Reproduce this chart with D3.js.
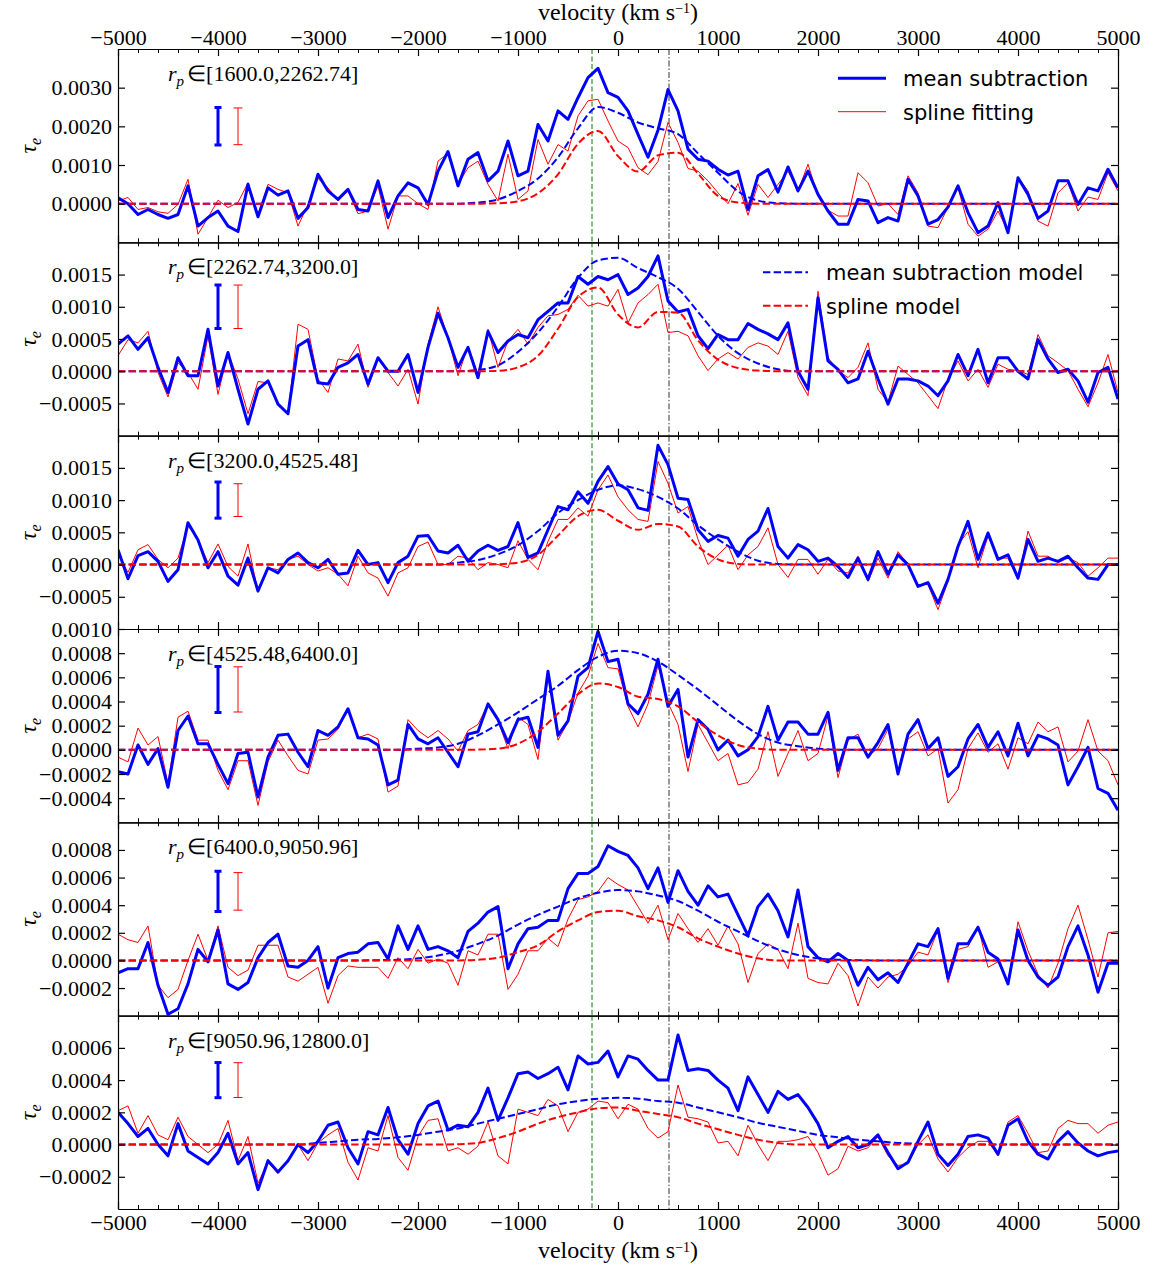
<!DOCTYPE html>
<html>
<head>
<meta charset="utf-8">
<script src="https://cdn.jsdelivr.net/npm/d3@7"></script>
<style>
  body { margin: 0; background: #fff; }
  svg { display: block; }
</style>
</head>
<body>
<svg id="chart" width="1151" height="1271"></svg>
<script>
// ---------------------------------------------------------------------------
// Stacked optical-depth profiles tau_e(v) in six projected-radius bins.
// All tau_e values below are given in units of 1e-4.
// ---------------------------------------------------------------------------
const UNIT = 1e-4;

// velocity grid of the measured profiles (km/s) and of the fitted models
const velocity = d3.range(-5000, 5001, 100);
const modelVelocity = [-5000, ...d3.range(-3200, 3201, 200), 5000];

const binLabels = ["[1600.0,2262.74]", "[2262.74,3200.0]", "[3200.0,4525.48]",
                   "[4525.48,6400.0]", "[6400.0,9050.96]", "[9050.96,12800.0]"];

// mean subtraction profiles
const meanSub1 = [1.55,0,-2.8,-1.5,-2.8,-3.8,-2.8,4.6,-5.8,-3.6, -1.9,-5.8,-7.2,5.0,-3.4,4.1,2.2,3.3,-3.8,-1, 7.6,3.3,1.1,3.7,-1.5,-1.9,5.9,-3.6,2.0,5.4, 4.1,-0.2,8.4,13.5,4.6,11.5,13.2,5.9,8.4,16.2, 7.2,8.4,20.5,16.2,24.0,21.8,27.4,32.6,35,28.7, 27.5,
  24,17.9,12,19,29.5,24,14.1,11.5,11.0,8.9, 7.4,8.4,-1.5,7.2,8.8,3,9.5,3.3,8.4,2.4, -1.9,-5.3,-5.3,1.1,0.7,-4.9,-3.6,-4.5,6.3,2.0, -5.3,-4.1,-0.9,4.6,-2.3,-7.5,-5.8,0.3,-7.5,6.7, 2.4,-3.8,-1.9,5.9,5.9,-0.2,4.1,3.3,8.9,4.1];
const meanSub2 = [4.2,5.5,3.4,5.2,0.6,-3.3,2.1,-0.7,-0.7,6.5, -2.3,2.9,-2.8,-8.2,-2.8,-1.5,-5.1,-6.6,3.9,4.9, -1.8,-2.0,0.6,1.3,2.6,-2,2.1,0,0,2.6, -3.3,3.7,9,5.2,0.6,3.7,-1.0,6.2,2.9,4.7, 5.7,5.2,8.0,9.3,10.6,10.6,14.7,13.5,14.7,14.2, 15.0,
  11.9,12.9,14.7,17.9,10.9,9.2,9.6,5.5,3.5,5.7, 4.9,4.9,7.4,6.5,5.8,4.9,7.5,0,-2.8,11.4, 1.6,0.3,-1.8,-1.2,3.1,-1.2,-5.1,-1.2,-1.2,-1.5, -2.3,-3.8,-1.5,2.6,-0.7,3.4,-1.8,2.1,2.1,0, -1.2,4.9,1.9,-0.2,0.3,-1.5,-4.8,-0.2,0.6,-4.3];
const meanSub3 = [2.3,-2.2,1.4,2.0,0.5,-2.6,-0.8,6.5,3.8,-0.5, 2,-1.8,-3.2,1.0,-4.1,-0.5,-1.3,0.8,1.8,0.3, -0.5,0.8,-1.5,-1.3,2.2,0,0.3,-2.8,0.3,1.3, 4.4,4.5,2.1,1.8,3.0,0.5,2.1,3.0,2.2,2.8, 6.5,1.1,1.8,5.4,9.0,8.5,11.3,9.5,12.9,15.2, 12.5,
  11.6,8.8,8.4,18.5,15.5,10.3,10.1,5.4,3.6,4.5, 4.1,1.3,3.9,5.2,8.7,2.8,1.0,3.1,2.3,0.5, 1.0,-0.3,-2.0,1.0,-2.3,2.0,-1.5,1.5,0,-3.4, -2.8,-6,-2.3,2.8,6.7,0.8,4.9,0.8,1.5,-2.1, 3.9,0.5,1.0,0.5,1.3,-0.5,-2.1,-2.3,0,0];
const meanSub4 = [-1.8,-2.0,0.4,-1.2,0.1,-3.1,1.6,2.8,0.5,0.5, -1.2,-2.8,-0.3,-0.2,-3.9,-0.6,1.2,1.3,-0.2,-1.4, 1.6,1.2,1.9,3.4,1.0,0.9,0.4,-2.9,-2.5,2.1, 0.9,0.5,1.0,-0.2,-1.4,1.3,1.5,3.8,2.5,0.6, 2.5,2.7,0.2,6.5,1.2,2.4,6.1,6.8,9.8,7.3, 7.5,
  3.8,3.0,4.6,7.5,3.6,5.0,-0.6,2.5,1.7,0, 0.8,-0.5,0,1.1,3.6,0.8,2.3,2.3,1.3,1.3, 3.1,-1.7,1.0,1.0,-0.6,0.6,2.1,-2.0,1.3,2.5, 0.1,1.0,-2.2,-1.4,0.9,2.1,0.2,1.5,-0.5,2.2, -0.5,1.2,0.9,0.4,-2.9,-1.4,0.2,-3.2,-3.6,-5.0];
const meanSub5 = [-0.9,-0.6,-0.6,1.3,-1.8,-3.9,-3.5,-1.7,0.8,-0.1, 2.2,-1.7,-2.1,-1.6,0.2,1.3,1.9,-0.4,-0.5,0, 1.0,-2.0,0.2,0.5,0.6,1.2,1.3,0.1,2.5,0.8, 2.5,0.8,1.0,0.7,0.2,2.1,2.7,3.5,3.9,-0.6, 1.2,2.3,2.4,2.9,2.9,5.2,6.3,6.3,6.8,8.3, 7.9,
  7.6,6.7,5.2,6.7,4.2,6.5,5.0,4.0,5.4,4.6, 4.8,3.3,1.8,3.9,4.8,3.6,1.7,5.1,1.0,0.2, -0.1,0.5,0,-1.8,-0.5,-1.4,-0.9,-1.6,-0.2,1.2, 1.0,2.3,-1.3,1.2,1.2,2.4,0.6,0.1,-1.7,2.2, 0,-1.2,-1.8,-1.2,1.0,2.5,0.4,-2.3,-0.2,-0.2];
const meanSub6 = [2.0,1.3,0.5,1.0,0,-0.7,1.3,-0.4,-0.8,-1.2, -0.5,0.7,-1.2,-0.5,-2.8,-1.0,-1.7,-1.0,0,-0.5, 0.2,1.2,1.4,-0.2,-1.2,0.8,0.6,2.3,0.3,-0.6, 1.3,2.4,2.7,0.9,1.2,1.1,2.0,3.5,1.5,2.9, 4.4,4.5,4.1,4.4,4.8,3.4,5.5,5.0,5.1,5.8, 4.2,
  5.5,5.3,4.6,4.0,4.0,6.8,4.6,4.7,4.6,4.0, 3.5,2.1,4.2,3.1,2.0,3.3,2.8,3.1,2.3,1.3, -0.2,0.2,0.5,-0.2,0,0.6,-0.5,-1.5,-1.1,0.2, 1.4,-0.6,-1.3,-0.6,0.5,0.6,0.4,-0.6,1.2,1.6, 0.2,-0.6,-0.9,0.2,0.8,0.1,-0.4,-0.7,-0.5,-0.4];

// spline fitting profiles
const splineFit1 = [0.7,1.6,-1.5,-1.0,-2.1,-2.5,-0.2,6.3,-7.9,-3.6, 0.9,-1.0,0.3,5.4,-2.8,5.0,3.7,2.8,-5.8,-0.2, 6.5,4.1,0.7,3.3,-2.6,-1.9,4.6,-6.6,2.0,2.0, 0,-1.5,11.0,13,5.0,9.3,11.0,5.0,0.7,12.8, 1.1,3.3,16.6,10.2,15.3,13.6,22.7,26.6,27,21.4, 16.2,
  14.5,9.3,7.5,10.9,21,15.8,9.1,8.4,5.9,2.8, 0,5.2,-3,5.0,1.6,5.0,8.4,3.3,10.2,2.0, -1.7,-3.2,-3.2,8.0,5.4,-0.6,0,-2.8,7.2,2.8, -5.8,-6.2,-0.9,4.1,-5.3,-8.4,-6.6,-1.9,-7.1,6.9, 3.3,-4.5,-5.8,2.8,5.4,-1.9,1.7,1.1,8.0,3.3];
const splineFit2 = [2.4,4.9,4.4,6.2,-0.2,-4,1.3,-0.2,-2.8,5.5, -3.6,2.9,-1.2,-6.6,-1.6,-1.8,-5.1,-6.6,7.3,6.5, -1.2,-3.3,1.9,1.6,4.2,-2.5,1.9,-0.2,-2.3,0.3, -5.1,4.2,10,5.2,-0.7,3.9,-0.5,6.5,0.6,4.7, 6.5,4.2,6.8,8.6,8.8,9.6,11.8,10.1,10.6,10.1, 12.7,
  7.5,10.6,11.9,13.5,6.0,6.2,5.5,2.4,0.1,1.9, 2.9,1.9,3.7,4.4,3.9,2.6,6.2,-1,-3.8,12.4, 2.1,0.1,-1.0,0.6,4.4,-2.8,-4.8,0.8,-0.5,-1.8, -3.8,-5.8,-1.2,1.6,-1.5,0.3,-2.5,1.1,0.3,0.1, -0.5,5.7,2.4,1.3,0.1,-2.8,-5.5,-1.8,2.6,-3.3];
const splineFit3 = [1.5,-1.2,2.3,3.1,0.8,-0.5,1.0,6,3.9,0.3, 3.2,-0.3,-1.8,3.2,-4.3,-0.5,-0.8,0.8,1.3,0, -1.0,-0.5,-1.5,-3.3,1.3,-1.3,-2.1,-4.9,-1.3,-0.5, 2.8,3.5,0,0,1.3,1.0,-0.8,0.3,0,-0.5, 3.7,0.8,-0.8,3.6,7.0,7.0,8.8,7.5,11.6,13.9, 10.5,
  8.5,7.0,6.7,16,12.6,8.0,9.0,3.9,0,1.5, 3.0,-0.8,1.5,2.8,5.7,0,-2.0,0.8,0.8,-1.5, 0.8,-1.0,-1.3,1.3,-2.6,1.0,-2.1,2.0,0,-3.1, -3.1,-7.0,-2.6,3.1,5.1,-0.5,4.4,1.0,1.0,-2.3, 5.2,1.3,1.3,0.3,1.0,0.3,-1.8,-0.5,1.0,1.0];
const splineFit4 = [-0.6,-1.0,1.8,0.4,1.1,-2.8,2.7,3.2,0.8,0.8, -1.7,-3.3,-0.9,-0.9,-4.6,-1.0,0.8,-0.5,-1.7,-2.0, 0.8,0.9,1.7,3.4,1.0,1.3,0.9,-3.5,-3.0,2.5, 1.6,1.0,1.6,0.9,-0.1,1.6,2.1,3.8,2.4,0.1, 2.7,2.1,-0.8,6.2,0.8,2.3,4.7,6.1,8.8,6.8, 6.7,
  3.6,1.9,3.8,7.0,3.9,2.1,-1.8,2.1,0.6,-0.9, -0.3,-2.9,-2.7,-1.6,1.5,-2.2,-0.3,1.6,-0.9,-0.3, 2.8,-2.3,0.8,1.3,-0.5,0.1,1.7,-2.0,0.9,1.5, -0.5,0.1,-4.4,-3.3,0.1,1.4,-0.2,0.5,-1.6,1.0, 0.5,2.3,1.5,1.9,-1.0,-0.1,2.5,-0.1,-0.9,-2.9];
const splineFit5 = [1.9,1.5,1.3,2.5,-1.8,-2.7,-2.1,0,1.9,0, 2.5,-0.5,-1.1,-0.7,1.1,1.1,1.1,-1.2,-1.5,-1.0, -0.5,-3.1,-1.1,-0.4,-0.5,-0.5,-0.5,-1.3,0.2,-0.6, 0.8,-0.2,0.1,-0.2,-1.8,0.7,0.4,1.9,1.9,-2.1, -1.0,0.7,0.7,1.6,1.0,3.0,4.4,4.6,5.0,6.0, 5.5,
  5.1,3.9,2.7,4.0,1.5,3.4,2.3,1.3,2.3,1.1, 2.5,1.2,-1.6,0.5,1.2,0.8,-0.6,2.7,-1.3,-1.6, -1.7,-0.2,-1.1,-3.3,-1.2,-2.0,-1.2,-1.0,-0.4,0.6, 0.4,2.2,-1.6,0.8,1.0,2.5,-0.5,-0.1,-1.6,2.8, 0.7,-1.0,-2.0,-0.2,2.3,4.0,1.5,-1.2,2.0,2.1];
const splineFit6 = [2.1,2.4,0.7,1.8,0.6,0.3,1.7,0.5,0,-0.5, 0,1.5,-1.0,0.5,-2.4,-1.1,-1.8,-1.0,0,-1.0, 0.1,0.6,1.0,-1.1,-2.2,-0.2,-0.4,1.8,-0.8,-1.6, 0.5,1.5,1.6,-0.4,-0.2,-0.6,-0.1,1.4,-0.7,-1.2, 2.2,2.0,1.8,2.8,2.4,0.8,2.0,2.2,2.7,2.6, 1.6,
  2.5,2.2,1.0,0.4,0.8,3.7,1.7,1.6,1.4,0.1, 0.2,-0.7,1.2,0,-1.0,0.2,0.2,0.3,0.5,-0.5, -1.9,-1.5,-0.1,-0.4,-0.2,0.5,-0.7,-1.3,-1.2,0, 0.6,-0.9,-1.7,-0.8,-0.2,0.2,0.2,-0.7,1.4,1.8, 0.7,-0.5,-0.4,1.0,1.5,1.3,1.3,0.7,1.2,1.4];

// model curves sampled on modelVelocity
const meanModel1 = [0, 0,0,0,0,0,0,0,0,0, 0.3,1.1,3.3,6.5,12,19.5,25, 23.5, 21,19.5,18,13,8,3.2,0.8, 0.1,0,0,0,0,0,0,0,0, 0];
const meanModel2 = [0, 0,0,0,0,0,0,0,0,0, 0.2,0.9,3.0,6,10,14.5,17.2, 17.6, 16,14.6,12.8,9.2,5.5,2.8,1.2, 0.3,0,0,0,0,0,0,0,0, 0];
const meanModel3 = [0, 0,0,0,0,0,0,0,0,0.3, 0.7,1.6,3.0,5.2,8.0,10,11.6, 12.3, 11.7,10.5,8.7,6.1,3.9,2.0,0.6, 0.1,0,0,0,0,0,0,0,0, 0];
const meanModel4 = [0, 0,0,0,0,0,0,0.1,0.2,0.5, 1.2,2.1,3.1,4.2,5.3,6.6,7.7, 8.2, 8.0,7.3,6.2,5.0,3.7,2.4,1.3, 0.6,0.3,0.1,0,0,0,0,0,0, 0];
const meanModel5 = [0, 0,0,0,0,0.02,0.05,0.15,0.35,0.7, 1.2,1.8,2.6,3.3,3.9,4.5,4.9, 5.1, 5.0,4.7,4.3,3.6,2.8,2.1,1.4, 0.8,0.4,0.15,0.05,0.02,0,0,0,0, 0];
const meanModel6 = [0, 0,0.1,0.2,0.3,0.35,0.45,0.6,0.8,1.0, 1.3,1.6,1.9,2.2,2.5,2.7,2.85, 2.9, 2.85,2.7,2.6,2.3,2.0,1.7,1.35, 1.1,0.85,0.6,0.45,0.3,0.2,0.1,0.05,0, 0];

const splineModel1 = [0, 0,0,0,0,0,0,0,0,0, 0,0.1,0.6,2.7,7.6,15.5,18.8, 12.3, 8.3,12.5,13.2,7.8,2.0,0.3,0, 0,0,0,0,0,0,0,0,0, 0];
const splineModel2 = [0, 0,0,0,0,0,0,0,0,0, 0,0.05,0.6,2.4,6.6,11.5,13, 8.8, 6.8,9.2,9.1,4.8,1.8,0.5,0.1, 0,0,0,0,0,0,0,0,0, 0];
const splineModel3 = [0, 0,0,0,0,0,0,0,0,0, 0,0.05,0.3,1.5,4.5,7.5,8.5, 6.8, 5.4,6.3,5.9,2.8,0.8,0.1,0, 0,0,0,0,0,0,0,0,0, 0];
const splineModel4 = [0, 0,0,0,0,0,0,0,0,0, 0.02,0.1,0.5,1.5,3.0,4.6,5.5, 5.2, 4.4,4.2,3.6,2.3,1.2,0.4,0.1, 0,0,0,0,0,0,0,0,0, 0];
const splineModel5 = [0, 0,0,0,0,0,0,0,0,0, 0.05,0.2,0.6,1.1,2.1,2.9,3.5, 3.6, 3.2,2.9,2.4,1.6,1.0,0.5,0.15, 0,0,0,0,0,0,0,0,0, 0];
const splineModel6 = [0, 0,0,0,0,0,0,0,0,0.02, 0.1,0.4,0.8,1.3,1.7,2.0,2.25, 2.3, 2.1,1.9,1.7,1.3,0.95,0.6,0.3, 0.1,0,0,0,0,0,0,0,0, 0];

// error bars: centre and half-length of each bar (1e-4)
const errorCentre = [20, 10, 10, 5, 5, 4];
const errorMeanSub = [4.85, 3.37, 2.8, 1.9, 1.46, 1.09];
const errorSpline = [4.75, 3.37, 2.54, 1.87, 1.36, 1.08];
const errorVelocity = [-4000, -3800];

// y ranges and labelled ticks of each panel (1e-4)
const yRanges = [[-10, 40], [-10, 20], [-10, 20], [-6, 10], [-4, 10], [-4, 8]];
const yTickValues = [[0, 10, 20, 30], [-5, 0, 5, 10, 15], [-5, 0, 5, 10, 15],
                     [-4, -2, 0, 2, 4, 6, 8, 10], [-2, 0, 2, 4, 6, 8], [-2, 0, 2, 4, 6]];
const xMajorTicks = d3.range(-5000, 5001, 1000);
const xMinorTicks = d3.range(-5000, 5001, 200).filter(v => v % 1000 !== 0);

// reference velocities marked by vertical lines
const markerVelocity = [-260, 510];

// ---------------------------------------------------------------------------
const meanSub = [meanSub1, meanSub2, meanSub3, meanSub4, meanSub5, meanSub6];
const splineFit = [splineFit1, splineFit2, splineFit3, splineFit4, splineFit5, splineFit6];
const meanModel = [meanModel1, meanModel2, meanModel3, meanModel4, meanModel5, meanModel6];
const splineModel = [splineModel1, splineModel2, splineModel3, splineModel4, splineModel5, splineModel6];

const BLUE = "#0000ff", RED = "#ff0000", GREEN = "#008000";
const SERIF = "'Liberation Serif', 'Times New Roman', serif";
const SANS = "'DejaVu Sans', sans-serif";

const svg = d3.select("#chart");
const plotLeft = 118, plotRight = 1118, plotTop = 49, plotBottom = 1209;
const nPanels = 6;
const ph = (plotBottom - plotTop) / nPanels;
const MAJOR = 7, MINOR = 4;

const x = d3.scaleLinear().domain([-5000, 5000]).range([plotLeft, plotRight]);
const fmtY = v => d3.format(".4f")(v).replace("-", "\u2212");
const fmtX = v => d3.format("d")(v).replace("-", "\u2212");

const defs = svg.append("defs");

for (let i = 0; i < nPanels; i++) {
  const y0 = plotTop + i * ph, y1 = y0 + ph;
  const y = d3.scaleLinear().domain(yRanges[i].map(v => v * UNIT)).range([y1, y0]);
  const panel = svg.append("g").attr("class", "panel");

  defs.append("clipPath").attr("id", "clip" + i)
    .append("rect").attr("x", plotLeft).attr("y", y0).attr("width", plotRight - plotLeft).attr("height", ph);
  const plot = panel.append("g").attr("clip-path", `url(#clip${i})`);

  // vertical reference lines
  plot.append("line")
    .attr("x1", x(markerVelocity[0])).attr("x2", x(markerVelocity[0]))
    .attr("y1", y0).attr("y2", y1)
    .attr("stroke", GREEN).attr("stroke-width", 1).attr("stroke-dasharray", "5,2.5");
  plot.append("line")
    .attr("x1", x(markerVelocity[1])).attr("x2", x(markerVelocity[1]))
    .attr("y1", y0).attr("y2", y1)
    .attr("stroke", "#333").attr("stroke-width", 1).attr("stroke-dasharray", "6,2,1.5,2");

  const dataLine = d3.line().x((d, k) => x(velocity[k])).y(d => y(d * UNIT));
  const modelLine = d3.line().curve(d3.curveMonotoneX)
    .x((d, k) => x(modelVelocity[k])).y(d => y(d * UNIT));

  plot.append("path").datum(splineFit[i]).attr("d", dataLine)
    .attr("fill", "none").attr("stroke", RED).attr("stroke-width", 1).attr("stroke-linejoin", "round");
  plot.append("path").datum(meanSub[i]).attr("d", dataLine)
    .attr("fill", "none").attr("stroke", BLUE).attr("stroke-width", 3).attr("stroke-linejoin", "round");
  plot.append("path").datum(meanModel[i]).attr("d", modelLine)
    .attr("fill", "none").attr("stroke", BLUE).attr("stroke-width", 2).attr("stroke-dasharray", "7.4,3.2");
  plot.append("path").datum(splineModel[i]).attr("d", modelLine)
    .attr("fill", "none").attr("stroke", RED).attr("stroke-width", 2).attr("stroke-dasharray", "7.4,3.2");

  // error bars
  const bars = [
    {v: errorVelocity[0], half: errorMeanSub[i], color: BLUE, w: 3, cap: 3.5},
    {v: errorVelocity[1], half: errorSpline[i], color: RED, w: 1, cap: 4.5}
  ];
  bars.forEach(b => {
    const cx = x(b.v);
    const ya = y((errorCentre[i] + b.half) * UNIT), yb = y((errorCentre[i] - b.half) * UNIT);
    const eb = plot.append("g").attr("stroke", b.color).attr("stroke-width", b.w);
    eb.append("line").attr("x1", cx).attr("x2", cx).attr("y1", ya).attr("y2", yb);
    eb.append("line").attr("x1", cx - b.cap).attr("x2", cx + b.cap).attr("y1", ya).attr("y2", ya);
    eb.append("line").attr("x1", cx - b.cap).attr("x2", cx + b.cap).attr("y1", yb).attr("y2", yb);
  });

  // bin label r_p ∈ [...]
  const lab = panel.append("text").attr("x", 168).attr("y", y0 + 32)
    .attr("font-family", SERIF).attr("font-size", 22).attr("fill", "#000");
  lab.append("tspan").attr("font-style", "italic").text("r");
  lab.append("tspan").attr("font-style", "italic").attr("font-size", 15).attr("dy", 5).text("p");
  lab.append("tspan").attr("dy", -5).attr("dx", 3).text("\u2208");
  lab.append("tspan").text(binLabels[i]);

  // axes: ticks point inwards on all four sides
  const styleAxis = (g, showText) => {
    g.attr("font-family", SERIF).attr("font-size", 22);
    g.selectAll("text").attr("fill", "#000");
    g.select(".domain").attr("stroke", "#000").attr("stroke-width", 1.2);
    g.selectAll(".tick line").attr("stroke", "#000").attr("stroke-width", 1.2);
    if (!showText) g.selectAll("text").remove();
  };

  const bottomAx = panel.append("g").attr("transform", `translate(0,${y1})`)
    .call(d3.axisBottom(x).tickValues(xMajorTicks).tickSize(-MAJOR).tickSizeOuter(0)
      .tickPadding(5).tickFormat(fmtX));
  styleAxis(bottomAx, i === nPanels - 1);
  panel.append("g").attr("transform", `translate(0,${y1})`)
    .call(d3.axisBottom(x).tickValues(xMinorTicks).tickSize(-MINOR).tickFormat(""))
    .call(g => { g.select(".domain").remove(); g.selectAll("line").attr("stroke", "#000"); });

  const topAx = panel.append("g").attr("transform", `translate(0,${y0})`)
    .call(d3.axisTop(x).tickValues(xMajorTicks).tickSize(-MAJOR).tickSizeOuter(0)
      .tickPadding(4.5).tickFormat(fmtX));
  styleAxis(topAx, i === 0);
  panel.append("g").attr("transform", `translate(0,${y0})`)
    .call(d3.axisTop(x).tickValues(xMinorTicks).tickSize(-MINOR).tickFormat(""))
    .call(g => { g.select(".domain").remove(); g.selectAll("line").attr("stroke", "#000"); });

  const leftAx = panel.append("g").attr("transform", `translate(${plotLeft},0)`)
    .call(d3.axisLeft(y).tickValues(yTickValues[i].map(v => v * UNIT)).tickSize(-MAJOR)
      .tickSizeOuter(0).tickPadding(6).tickFormat(fmtY));
  styleAxis(leftAx, true);
  const rightAx = panel.append("g").attr("transform", `translate(${plotRight},0)`)
    .call(d3.axisRight(y).tickValues(yTickValues[i].map(v => v * UNIT)).tickSize(-MAJOR)
      .tickSizeOuter(0).tickFormat(""));
  styleAxis(rightAx, false);

  // y axis title tau_e
  const cy = (y0 + y1) / 2;
  const yt = panel.append("text").attr("transform", `translate(36,${cy}) rotate(-90)`)
    .attr("text-anchor", "middle").attr("font-family", SERIF).attr("font-size", 24).attr("fill", "#000");
  yt.append("tspan").attr("font-style", "italic").text("\u03c4");
  yt.append("tspan").attr("font-style", "italic").attr("font-size", 16).attr("dy", 5).text("e");
}

// x axis titles
[{yy: 19.5}, {yy: 1258}].forEach(t => {
  const tx = svg.append("text").attr("x", x(0)).attr("y", t.yy).attr("text-anchor", "middle")
    .attr("font-family", SERIF).attr("font-size", 24).attr("fill", "#000");
  tx.append("tspan").text("velocity (km s");
  tx.append("tspan").attr("font-size", 14).attr("dy", -6.5).text("\u22121");
  tx.append("tspan").attr("dy", 6.5).text(")");
});

// legends
function legend(ly, rows, x1, x2, tx) {
  const g = svg.append("g");
  rows.forEach((r, k) => {
    const yy = ly + k * 33.4;
    g.append("line").attr("x1", x1).attr("x2", x2).attr("y1", yy).attr("y2", yy)
      .attr("stroke", r.color).attr("stroke-width", r.w)
      .attr("stroke-dasharray", r.dash || null);
    g.append("text").attr("x", tx).attr("y", yy + 8)
      .attr("font-family", SANS).attr("font-size", 21).attr("fill", "#000").text(r.text);
  });
}
legend(plotTop + 29.3, [
  {text: "mean subtraction", color: BLUE, w: 3},
  {text: "spline fitting", color: RED, w: 1}
], 838, 886, 903);
legend(plotTop + ph + 30, [
  {text: "mean subtraction model", color: BLUE, w: 2, dash: "7.4,3.2"},
  {text: "spline model", color: RED, w: 2, dash: "7.4,3.2"}
], 763, 808, 826);
</script>
</body>
</html>
